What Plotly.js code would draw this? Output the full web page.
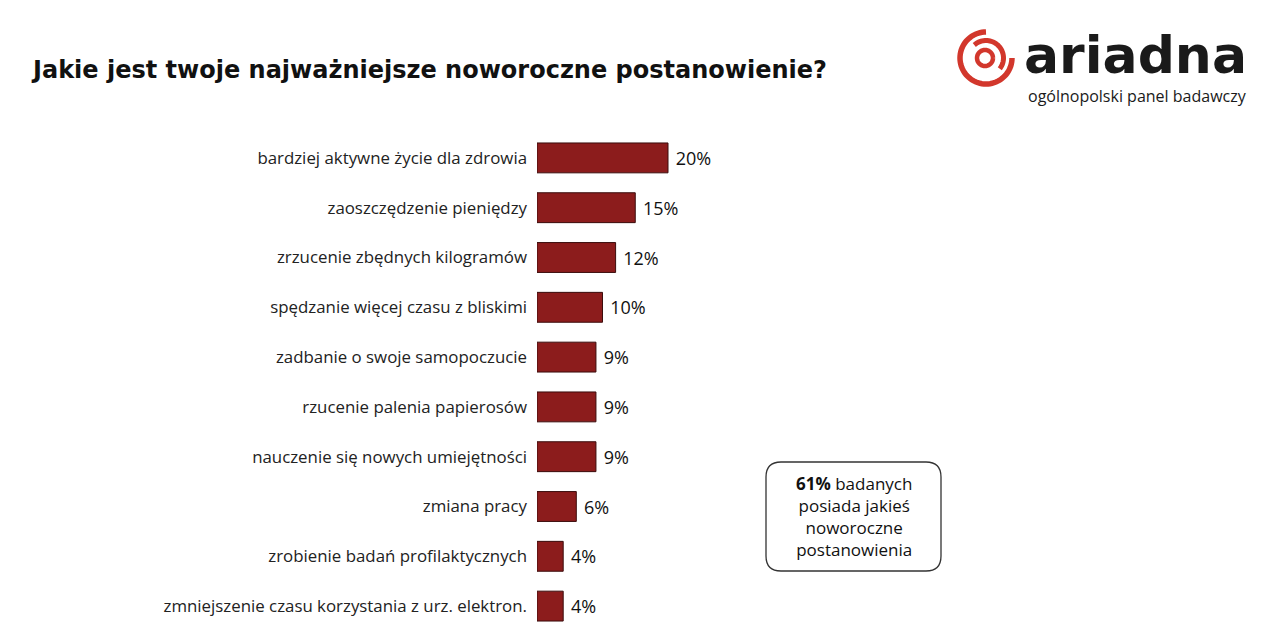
<!DOCTYPE html>
<html>
<head>
<meta charset="utf-8">
<script src="https://cdn.plot.ly/plotly-3.0.1.min.js"></script>
<style>html,body{margin:0;padding:0;background:#fff;}#chart{width:1267px;height:634px;}</style>
</head>
<body>
<div id="chart"></div>
<script>
// ---- data ----
const categories = [
  "bardziej aktywne życie dla zdrowia",
  "zaoszczędzenie pieniędzy",
  "zrzucenie zbędnych kilogramów",
  "spędzanie więcej czasu z bliskimi",
  "zadbanie o swoje samopoczucie",
  "rzucenie palenia papierosów",
  "nauczenie się nowych umiejętności",
  "zmiana pracy",
  "zrobienie badań profilaktycznych",
  "zmniejszenie czasu korzystania z urz. elektron."
];
const values = [20, 15, 12, 10, 9, 9, 9, 6, 4, 4];
const titleText = "Jakie jest twoje najważniejsze noworoczne postanowienie?";
const boxText = "<b>61%</b> badanych<br>posiada jakieś<br>noworoczne<br>postanowienia";
const logoText = "ariadna";
const logoSub = "ogólnopolski panel badawczy";

// ---- layout helpers (pixel frame) ----
const W = 1267, H = 634;
const plotL = 537, pxPerPct = 6.55, xMax = 30;
const plotT = 133, plotB = 631;

const barColor = "#8c1c1c";
const logoRed = "#d2372c";
const font = "Open Sans, Noto Sans, sans-serif";

function arc(cx, cy, r, a0, a1, n) {
  let d = "";
  for (let i = 0; i <= n; i++) {
    const a = (a0 + (a1 - a0) * i / n) * Math.PI / 180;
    const x = cx + r * Math.cos(a), y = cy - r * Math.sin(a);
    d += (i === 0 ? "M" : "L") + x.toFixed(2) + "," + y.toFixed(2);
  }
  return d;
}
function roundRect(x0, y0, x1, y1, r) {
  return `M${x0 + r},${y0} L${x1 - r},${y0} Q${x1},${y0} ${x1},${y0 + r} L${x1},${y1 - r} Q${x1},${y1} ${x1 - r},${y1} L${x0 + r},${y1} Q${x0},${y1} ${x0},${y1 - r} L${x0},${y0 + r} Q${x0},${y0} ${x0 + r},${y0} Z`;
}

const traces = [
  {
    type: "bar",
    orientation: "h",
    y: categories,
    x: values,
    marker: { color: barColor, line: { color: "#3b0d0d", width: 1 } },
    texttemplate: " %{x}%",
    textposition: "outside",
    cliponaxis: false,
    textfont: { family: font, size: 18, color: "#111" },
    hoverinfo: "skip",
    xaxis: "x", yaxis: "y"
  },
  { type: "scatter", x: [], y: [], xaxis: "x2", yaxis: "y2", hoverinfo: "skip", showlegend: false }
];

const cLogo = [986, 58];
const shapes = [
  { type: "path", xref: "x2", yref: "y2", path: arc(cLogo[0], cLogo[1], 26, 90, 360, 60), line: { color: logoRed, width: 5.5 } },
  { type: "path", xref: "x2", yref: "y2", path: arc(cLogo[0], cLogo[1], 17.5, -38, 132, 40), line: { color: logoRed, width: 5 } },
  { type: "path", xref: "x2", yref: "y2", path: arc(cLogo[0] - 1, cLogo[1], 8, 0, 360, 40), line: { color: logoRed, width: 4.5 } },
  { type: "path", xref: "x2", yref: "y2", path: roundRect(766, 462, 941, 571, 15), line: { color: "#333", width: 1.3 }, fillcolor: "rgba(0,0,0,0)" }
];

const annotations = [
  { xref: "x2", yref: "y2", x: 853.5, y: 516.5, text: boxText, showarrow: false, align: "center",
    font: { family: font, size: 17, color: "#111" }, xanchor: "center", yanchor: "middle" },
  { xref: "x2", yref: "y2", x: 1022, y: 55, text: logoText, showarrow: false, xanchor: "left", yanchor: "middle",
    font: { family: "DejaVu Sans, sans-serif", size: 52, color: "#1a1a1a", weight: 700 } },
  { xref: "x2", yref: "y2", x: 1249, y: 96, text: logoSub, showarrow: false, xanchor: "right", yanchor: "middle",
    font: { family: font, size: 16, color: "#1a1a1a" } }
];

const layout = {
  width: W, height: H,
  margin: { l: 0, r: 0, t: 0, b: 0 },
  paper_bgcolor: "#fff", plot_bgcolor: "rgba(0,0,0,0)",
  showlegend: false,
  title: { text: "<b>" + titleText + "</b>", x: 33 / W, xanchor: "left", xref: "container",
           y: 1 - 70 / H, yanchor: "middle", yref: "container",
           font: { family: "DejaVu Sans, sans-serif", size: 24, color: "#111" } },
  bargap: 0.4,
  xaxis: { domain: [plotL / W, (plotL + pxPerPct * xMax) / W], range: [0, xMax], visible: false, fixedrange: true },
  yaxis: { domain: [(H - plotB) / H, (H - plotT) / H], type: "category", categoryarray: categories,
           autorange: "reversed", showline: false, showgrid: false, zeroline: false, ticks: "",
           ticklabelstandoff: 9, tickfont: { family: font, size: 16.85, color: "#222" }, fixedrange: true },
  xaxis2: { domain: [0, 1], range: [0, W], visible: false, anchor: "y2", fixedrange: true },
  yaxis2: { domain: [0, 1], range: [H, 0], visible: false, anchor: "x2", fixedrange: true },
  shapes: shapes,
  annotations: annotations
};

Plotly.newPlot("chart", traces, layout, { staticPlot: true, displayModeBar: false });
</script>
</body>
</html>
